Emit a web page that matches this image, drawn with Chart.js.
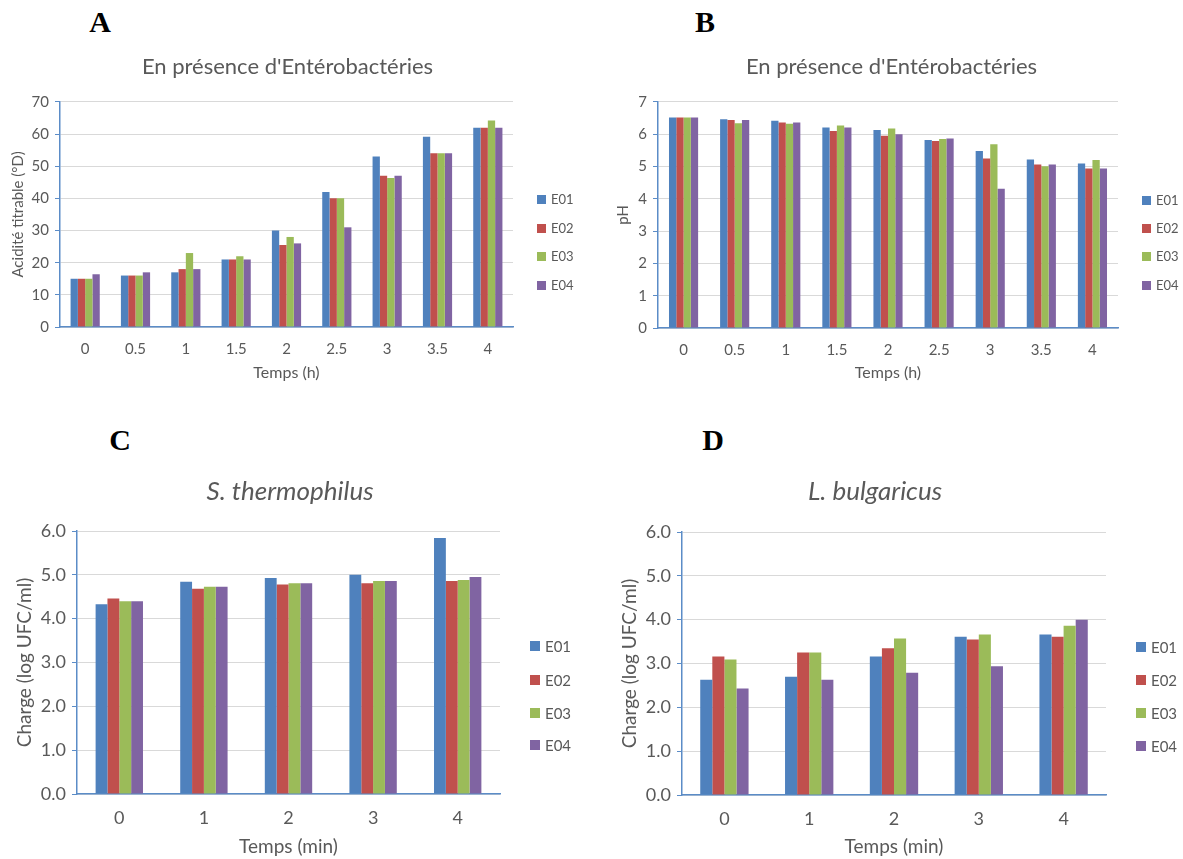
<!DOCTYPE html>
<html>
<head>
<meta charset="utf-8">
<script src="https://cdn.jsdelivr.net/npm/chart.js@4/dist/chart.umd.min.js"></script>
<style>
  body { margin: 0; background: #fff; width: 1183px; height: 859px; position: relative; overflow: hidden; font-family: Lato, sans-serif; }
  .box { position: absolute; }
  .letter { position: absolute; font-family: "Liberation Serif", serif; font-weight: bold; font-size: 30px; color: #000; transform: translate(-50%, -50%); }
  .leg { position: absolute; color: #595959; white-space: nowrap; }
  .leg span.sw { display: inline-block; position: absolute; }
</style>
</head>
<body>
<div class="letter" style="left:100px;top:22px">A</div>
<div class="letter" style="left:705px;top:22px">B</div>
<div class="letter" style="left:120px;top:440px">C</div>
<div class="letter" style="left:713px;top:440px">D</div>

<div class="box" style="left:0px;top:45px;width:575px;height:342px"><canvas id="chA"></canvas></div>
<div class="box" style="left:600px;top:45px;width:583px;height:342px"><canvas id="chB"></canvas></div>
<div class="box" style="left:0px;top:460px;width:580px;height:399px"><canvas id="chC"></canvas></div>
<div class="box" style="left:605px;top:460px;width:540px;height:399px"><canvas id="chD"></canvas></div>

<script>
const seriesNames = ['E01', 'E02', 'E03', 'E04'];
const colors = ['#4f81bd', '#c0504d', '#9bbb59', '#8064a2'];

// A - acidite titrable
const hoursLabels = ['0', '0.5', '1', '1.5', '2', '2.5', '3', '3.5', '4'];
const acidE01 = [15, 16, 17, 21, 30, 42, 53, 59.2, 62];
const acidE02 = [15, 16, 18, 21, 25.5, 40, 47, 54, 62];
const acidE03 = [15, 16, 23, 22, 28, 40, 46.3, 54, 64.2];
const acidE04 = [16.4, 17, 18, 21, 26, 31, 47, 54, 62];

// B - pH
const phE01 = [6.52, 6.46, 6.42, 6.21, 6.13, 5.82, 5.48, 5.22, 5.09];
const phE02 = [6.52, 6.44, 6.36, 6.10, 5.95, 5.79, 5.25, 5.06, 4.94];
const phE03 = [6.52, 6.34, 6.32, 6.27, 6.18, 5.85, 5.69, 5.01, 5.20];
const phE04 = [6.52, 6.44, 6.36, 6.21, 6.00, 5.87, 4.31, 5.06, 4.94];

// C - S. thermophilus, D - L. bulgaricus
const minLabels = ['0', '1', '2', '3', '4'];
const sthE01 = [4.33, 4.84, 4.93, 5.00, 5.84];
const sthE02 = [4.46, 4.68, 4.78, 4.81, 4.86];
const sthE03 = [4.40, 4.73, 4.81, 4.86, 4.88];
const sthE04 = [4.40, 4.73, 4.81, 4.86, 4.95];

const lbuE01 = [2.63, 2.70, 3.16, 3.61, 3.66];
const lbuE02 = [3.16, 3.25, 3.35, 3.55, 3.61];
const lbuE03 = [3.09, 3.25, 3.57, 3.66, 3.86];
const lbuE04 = [2.43, 2.63, 2.79, 2.94, 4.00];

const textColor = '#595959';
const axisBlue = '#5b8cc7';
const gridGray = '#d9d9d9';

function makeChart(id, cfg) {
    let datasets = cfg.series.map(function (vals, i) {
        return {
            label: seriesNames[i],
            data: vals,
            backgroundColor: colors[i],
            borderWidth: 0,
            categoryPercentage: cfg.catPct,
            barPercentage: 1
        };
    });
    return new Chart(document.getElementById(id), {
        type: 'bar',
        data: { labels: cfg.labels, datasets: datasets },
        options: {
            responsive: true,
            maintainAspectRatio: false,
            animation: false,
            layout: { padding: 0 },
            plugins: {
                legend: { display: false },
                tooltip: { enabled: false },
                title: {
                    display: true,
                    text: cfg.title,
                    color: textColor,
                    font: { family: 'Lato', size: cfg.titleSize, style: cfg.titleStyle, weight: 'normal' },
                    padding: { top: cfg.titlePadTop, bottom: cfg.titlePadBottom }
                }
            },
            scales: {
                x: {
                    grid: { display: false, drawTicks: false },
                    border: { display: true, color: axisBlue, width: 1.5 },
                    ticks: { color: textColor, font: { family: 'Lato', size: cfg.tickSize }, padding: cfg.xTickPad },
                    title: {
                        display: true, text: cfg.xTitle, color: textColor,
                        font: { family: 'Lato', size: cfg.xTitleSize },
                        padding: { top: 0, bottom: cfg.xTitlePad }
                    },
                    afterFit: function (scale) { scale.height = cfg.xHeight; }
                },
                y: {
                    min: 0, max: cfg.yMax,
                    grid: { color: gridGray, lineWidth: 1, tickColor: axisBlue, tickLength: 5 },
                    border: { display: true, color: axisBlue, width: 1.5 },
                    ticks: {
                        stepSize: cfg.yStep, color: textColor, padding: 6,
                        font: { family: 'Lato', size: cfg.tickSize },
                        callback: function (v) { return cfg.decimals ? v.toFixed(1) : v; }
                    },
                    title: {
                        display: true, text: cfg.yTitle, color: textColor,
                        font: { family: 'Lato', size: cfg.yTitleSize },
                        padding: { top: cfg.yTitlePad, bottom: 0 }
                    },
                    afterFit: function (scale) { scale.width = cfg.yWidth; }
                },
                // empty right-hand scale keeps room for the legend so the title stays centred on the whole chart
                legendSpace: {
                    type: 'linear',
                    position: 'right',
                    display: true,
                    grid: { display: false, drawTicks: false },
                    border: { display: false },
                    ticks: { display: false },
                    afterFit: function (scale) { scale.width = cfg.padRight; }
                }
            }
        }
    });
}

function makeLegend(x, ys, boxSize, fontSize) {
    seriesNames.forEach(function (name, i) {
        let d = document.createElement('div');
        d.className = 'leg';
        d.style.left = x + 'px';
        d.style.top = (ys[i] - fontSize * 0.6) + 'px';
        d.style.fontSize = fontSize + 'px';
        d.style.lineHeight = (fontSize * 1.2) + 'px';
        d.style.paddingLeft = (boxSize + 5) + 'px';
        let sw = document.createElement('span');
        sw.className = 'sw';
        sw.style.left = '0px';
        sw.style.top = ((fontSize * 1.2 - boxSize) / 2) + 'px';
        sw.style.width = boxSize + 'px';
        sw.style.height = boxSize + 'px';
        sw.style.background = colors[i];
        d.appendChild(sw);
        d.appendChild(document.createTextNode(name));
        document.body.appendChild(d);
    });
}

makeChart('chA', {
    labels: hoursLabels, series: [acidE01, acidE02, acidE03, acidE04],
    title: "En présence d'Entérobactéries", titleSize: 22, titleStyle: 'normal',
    titlePadTop: 9, titlePadBottom: 21.5, padRight: 62,
    xTitle: 'Temps (h)', yTitle: 'Acidité titrable (°D)',
    yMax: 70, yStep: 10, decimals: false,
    tickSize: 15, xTitleSize: 16, yTitleSize: 15, catPct: 0.58,
    xTickPad: 13, xTitlePad: 5, xHeight: 60, yWidth: 60, yTitlePad: 9
});

makeChart('chB', {
    labels: hoursLabels, series: [phE01, phE02, phE03, phE04],
    title: "En présence d'Entérobactéries", titleSize: 22, titleStyle: 'normal',
    titlePadTop: 9, titlePadBottom: 21.5, padRight: 65,
    xTitle: 'Temps (h)', yTitle: 'pH',
    yMax: 7, yStep: 1, decimals: false,
    tickSize: 15, xTitleSize: 16, yTitleSize: 15, catPct: 0.57,
    xTickPad: 13, xTitlePad: 5, xHeight: 59, yWidth: 58, yTitlePad: 14
});

makeChart('chC', {
    labels: minLabels, series: [sthE01, sthE02, sthE03, sthE04],
    title: 'S. thermophilus', titleSize: 26, titleStyle: 'italic',
    titlePadTop: 16.4, titlePadBottom: 23.4, padRight: 80,
    xTitle: 'Temps (min)', yTitle: 'Charge (log UFC/ml)',
    yMax: 6, yStep: 1, decimals: true,
    tickSize: 18, xTitleSize: 19, yTitleSize: 19, catPct: 0.56,
    xTickPad: 13, xTitlePad: 1, xHeight: 65, yWidth: 77, yTitlePad: 13.6
});

makeChart('chD', {
    labels: minLabels, series: [lbuE01, lbuE02, lbuE03, lbuE04],
    title: 'L. bulgaricus', titleSize: 26, titleStyle: 'italic',
    titlePadTop: 16.4, titlePadBottom: 24.4, padRight: 39,
    xTitle: 'Temps (min)', yTitle: 'Charge (log UFC/ml)',
    yMax: 6, yStep: 1, decimals: true,
    tickSize: 18, xTitleSize: 19, yTitleSize: 19, catPct: 0.57,
    xTickPad: 13, xTitlePad: 1, xHeight: 64, yWidth: 77, yTitlePad: 13.6
});

makeLegend(537, [200, 229, 257, 286], 9, 13);
makeLegend(1142, [201, 229, 257, 286], 9, 13);
makeLegend(530, [646, 680, 713, 745], 10, 15);
makeLegend(1136, [647, 680, 713, 746], 10, 15);
</script>
</body>
</html>
